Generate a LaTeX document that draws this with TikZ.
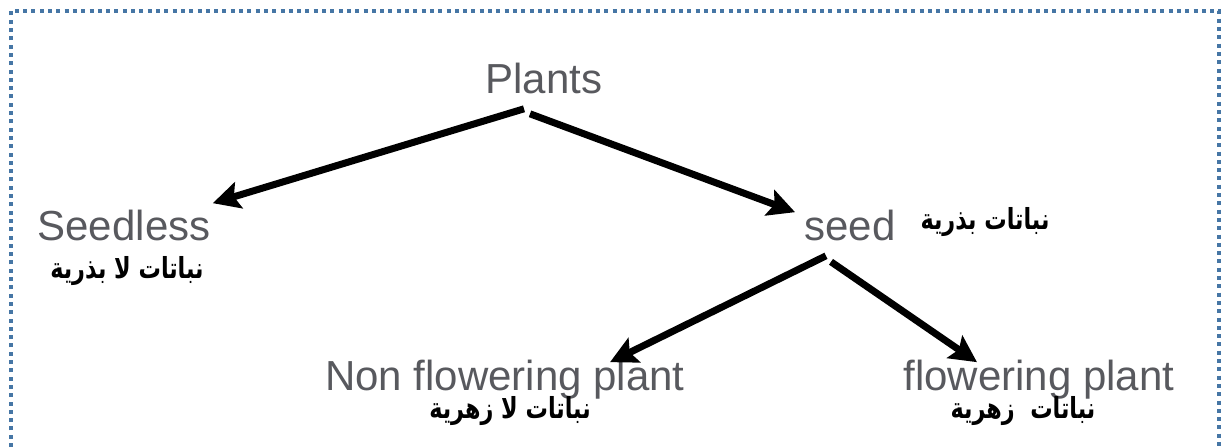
\documentclass[tikz,border=0pt]{standalone}
\usepackage{fontspec}
\setmainfont{Liberation Sans}
\newfontfamily\arabicfont[Script=Arabic,FakeStretch=0.77]{DejaVu Sans}
\TeXXeTstate=1
\usetikzlibrary{calc,arrows.meta}
\definecolor{dotblue}{RGB}{70,118,165}
\definecolor{labelgray}{RGB}{88,89,94}

\begin{document}
\begin{tikzpicture}[x=0.5pt, y=-0.5pt,
	lbl/.style={inner sep=0pt, anchor=base, text=labelgray, font=\fontsize{21}{24}\selectfont},
	arlbl/.style={inner sep=0pt, font=\arabicfont\bfseries\fontsize{14.5}{16}\selectfont},
	branch/.style={line width=3.5pt, -{Stealth[length=13.5pt, width=13.5pt, inset=2.5pt]}}]
		%%%%% START %%%%%
		
		\useasboundingbox (0, 0) rectangle (1224, 447);
		\draw[line width=2pt, color=dotblue, dash pattern=on 2pt off 2.15pt] (11, 447) -- (11, 11) -- (1219, 11) -- (1219, 447);
		
		\node[lbl] (plants) at (544, 93) {Plants};
		\node[lbl] (seedless) at (124, 240) {Seedless};
		\node[lbl] (seed) at (850, 240) {seed};
		\node[lbl] (nonflower) at (505, 390) {Non flowering plant};
		\node[lbl] (flower) at (1039, 390) {flowering plant};
		
		\node[arlbl] (seedlessar) at (127, 271) {\beginR نباتات لا بذرية\endR};
		\node[arlbl] (seedar) at (985, 222) {\beginR نباتات بذرية\endR};
		\node[arlbl] (nonflowerar) at (510, 411) {\beginR نباتات لا زهرية\endR};
		\node[arlbl] (flowerar) at (1023, 411) {\beginR نباتات~ زهرية\endR};
		
		\draw[branch] ($(plants.south)+(-20, 15)$) -- ($(seedless.north east)+(2, -6)$);
		\draw[branch] ($(plants.south)+(-14, 20)$) -- ($(seed.north west)+(-9, 3)$);
		\draw[branch] ($(seed.south)+(-24, 15)$) -- ($(nonflower.north)+(105, 3)$);
		\draw[branch] ($(seed.south)+(-19, 21)$) -- ($(flower.north)+(-62, 3)$);
		
		%%%%% END %%%%%
	\end{tikzpicture}
\end{document}
